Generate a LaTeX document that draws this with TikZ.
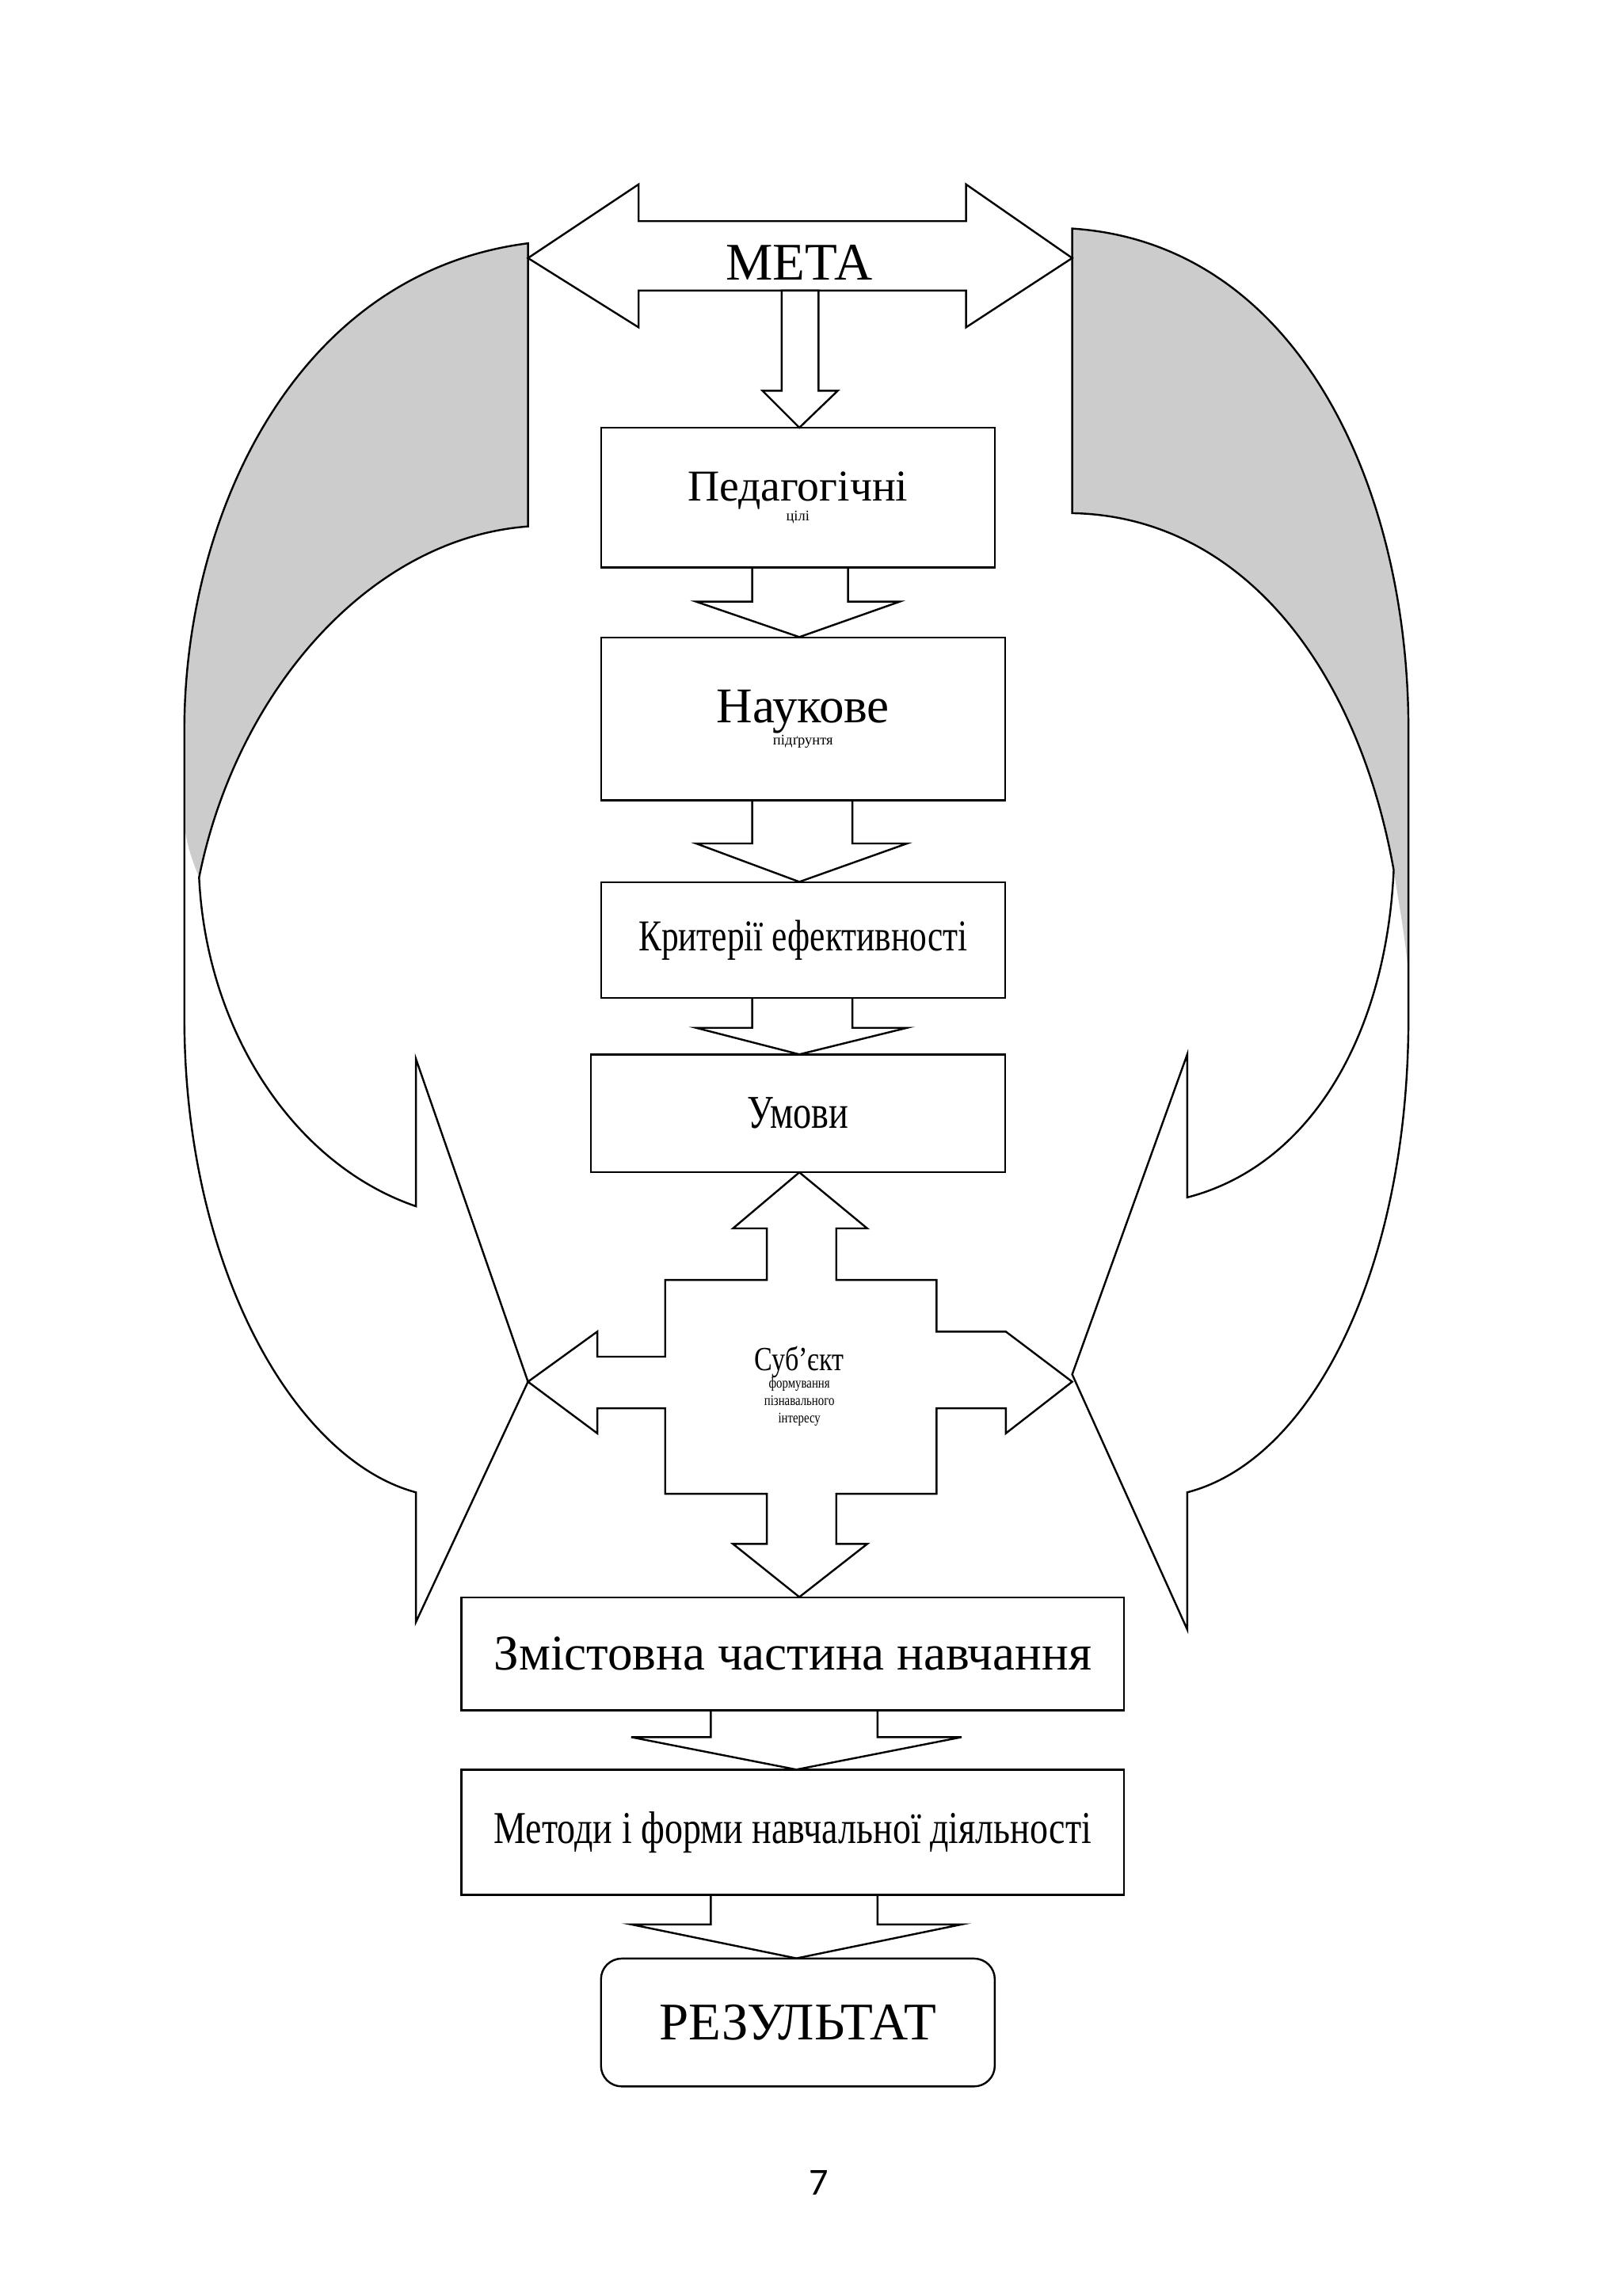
\documentclass[tikz,border=0pt]{standalone}
\usepackage{fontspec}
\setmainfont{Liberation Serif}
\newfontfamily\pnum{Carlito}
\begin{document}
\begin{tikzpicture}[x=1bp,y=-1bp,line width=1.3bp,
  box/.style={draw,line width=1.3bp,inner sep=0pt,align=center},
  gr/.style={fill=black!20}]
\useasboundingbox (0,0) rectangle (1100,1557);
% left curved arrow
\fill[gr] (358,165) .. controls (200,185) and (125,350) .. (125,495) -- (125,560)
  .. controls (127,575) and (131,585) .. (135,595) .. controls (160,470) and (250,365) .. (358,357) -- cycle;
\draw (358,165) .. controls (200,185) and (125,350) .. (125,495) -- (125,690)
  .. controls (125,860) and (200,990) .. (282,1012) -- (282,1100) -- (358,937) -- (282,718) -- (282,818)
  .. controls (200,790) and (140,700) .. (135,595) .. controls (160,470) and (250,365) .. (358,357) -- cycle;
% right curved arrow
\fill[gr] (727,155) .. controls (880,165) and (955,330) .. (955,495) -- (955,660)
  .. controls (952,630) and (948,610) .. (945,590) .. controls (920,450) and (840,350) .. (727,348) -- cycle;
\draw (727,155) .. controls (880,165) and (955,330) .. (955,495) -- (955,690)
  .. controls (955,860) and (890,990) .. (805,1012) -- (805,1105) -- (727,932) -- (805,715) -- (805,812)
  .. controls (890,790) and (940,700) .. (945,590) .. controls (920,450) and (840,350) .. (727,348) -- cycle;
% META double arrow
\draw[fill=white] (358,175) -- (433,125) -- (433,150) -- (655,150) -- (655,125) -- (727,175)
  -- (655,222) -- (655,197) -- (433,197) -- (433,222) -- cycle;
\node (meta) at (542,178) {\fontsize{36}{40}\selectfont МЕТА};
% boxes
\node[box,minimum width=268,minimum height=95] (b1) at (541,337.5) {\fontsize{30}{46}\selectfont Педагогічні\\ цілі};
\node[box,minimum width=275,minimum height=111] (b2) at (544.5,487.5) {\fontsize{34}{52}\selectfont Наукове\\ підґрунтя};
\node[box,minimum width=275,minimum height=79] (b3) at (544.5,637.5) {\fontsize{30}{34}\selectfont\scalebox{0.78}[1]{Критерії ефективності}};
\node[box,minimum width=282,minimum height=80] (b4) at (541,755) {\fontsize{32}{36}\selectfont\scalebox{0.78}[1]{Умови}};
\node[box,minimum width=451,minimum height=77] (b5) at (537.5,1121.5) {\fontsize{34}{38}\selectfont Змістовна частина навчання};
\node[box,minimum width=451,minimum height=85] (b6) at (537.5,1242.5) {\fontsize{31}{36}\selectfont\scalebox{0.8}[1]{Методи і форми навчальної діяльності}};
\node[box,rounded corners=14bp,minimum width=268,minimum height=87] (b7) at (541,1371.5) {\fontsize{36}{40}\selectfont РЕЗУЛЬТАТ};
% down arrow from META
\draw[fill=white] (530,197) -- (555,197) -- (555,265) -- (568,265) -- (542,290) -- (517,265) -- (530,265) -- cycle;
% chevron arrows
\draw (510,385) -- (510,408) -- (472,408) -- (542,432) -- (610,408) -- (575,408) -- (575,385);
\draw (510,543) -- (510,572) -- (472,572) -- (542,598) -- (615,572) -- (578,572) -- (578,543);
\draw (510,677) -- (510,697) -- (472,697) -- (542,715) -- (615,697) -- (578,697) -- (578,677);
\draw (482,1160) -- (482,1178) -- (428,1178) -- (540,1200) -- (652,1178) -- (595,1178) -- (595,1160);
\draw (482,1285) -- (482,1305) -- (428,1305) -- (540,1328) -- (652,1305) -- (595,1305) -- (595,1285);
% four-way arrow
\draw[fill=white] (542,795) -- (588,833) -- (567,833) -- (567,868) -- (635,868) -- (635,903) -- (682,903)
  -- (727,937) -- (682,972) -- (682,955) -- (635,955) -- (635,1013) -- (567,1013) -- (567,1047) -- (588,1047)
  -- (542,1083) -- (497,1047) -- (520,1047) -- (520,1013) -- (451,1013) -- (451,955) -- (405,955) -- (405,972)
  -- (358,937) -- (405,903) -- (405,920) -- (451,920) -- (451,868) -- (520,868) -- (520,833) -- (497,833) -- cycle;
\node[align=center] (subj) at (542,940) {\fontsize{23}{37}\selectfont\scalebox{0.8}[1]{Суб’єкт}\\ \scalebox{0.8}[1]{формування}\\ \scalebox{0.8}[1]{пізнавального}\\ \scalebox{0.8}[1]{інтересу}};
\node (pg) at (555,1480) {\pnum\fontsize{26}{30}\selectfont 7};
\end{tikzpicture}
\end{document}
